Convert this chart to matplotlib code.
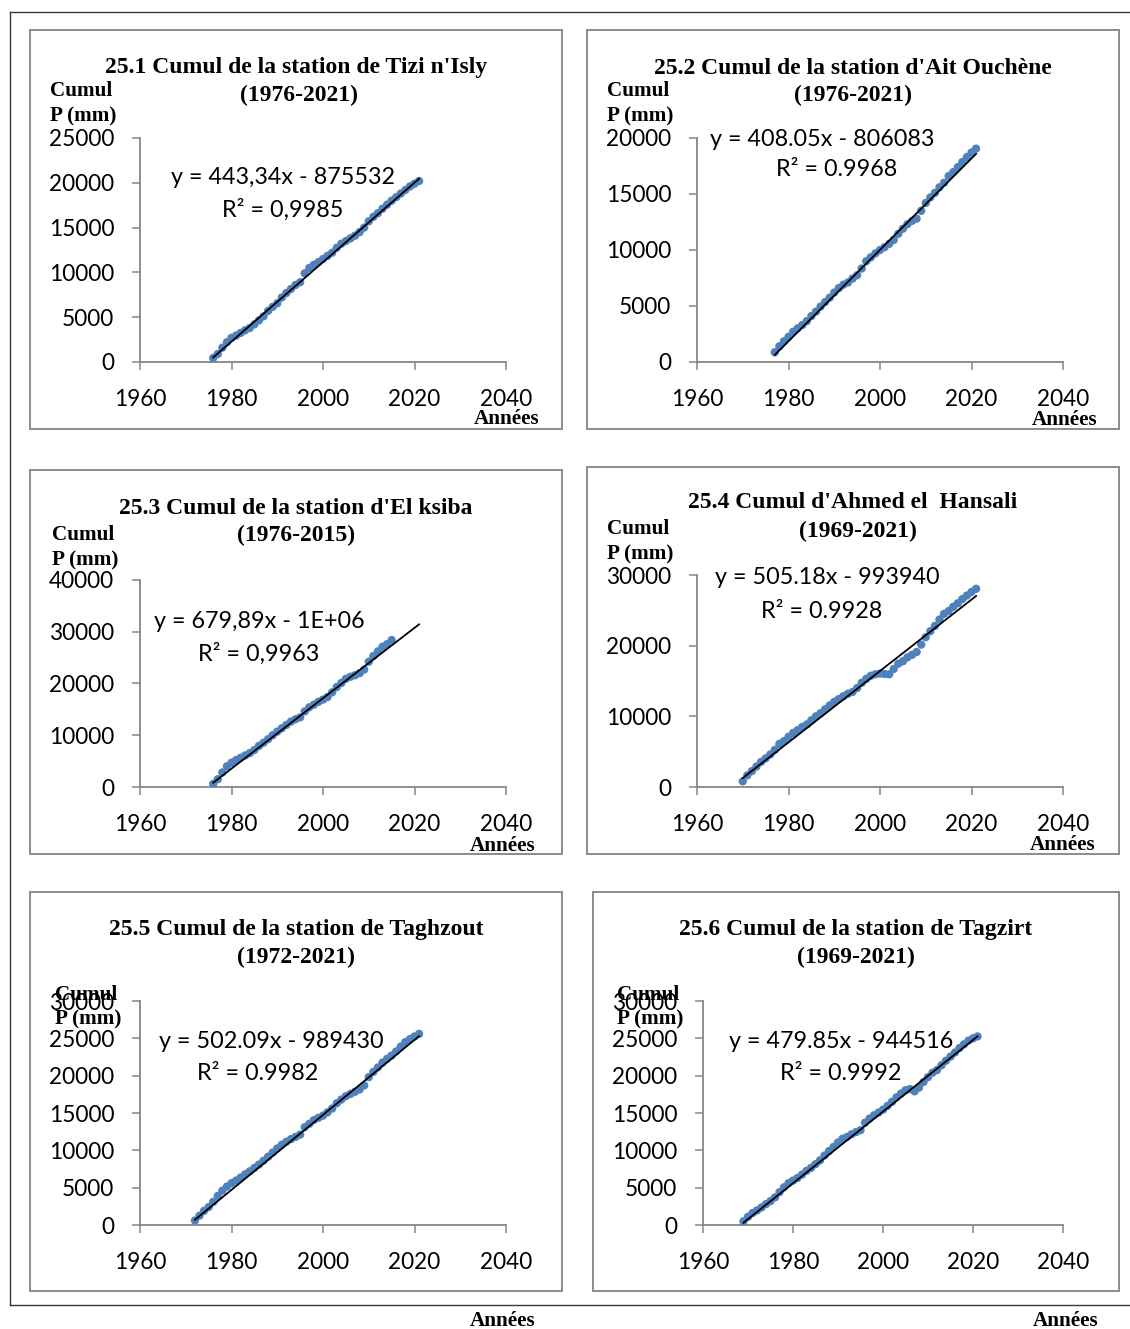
import numpy as np
import matplotlib
matplotlib.use("Agg")
import matplotlib.pyplot as plt
from matplotlib.patches import Rectangle
from matplotlib.lines import Line2D
from matplotlib.ticker import FuncFormatter

# ---------------------------------------------------------------- data
# Cumulative precipitation P (mm) per station, one value per year.
tizi_years = (1976, 2021)
tizi_cumul = [450, 900, 1600, 2200, 2700, 2950, 3250, 3550, 3800, 4200,
              4650, 5100, 5700, 6150, 6550, 7200, 7700, 8150, 8600, 8900,
              9900, 10500, 10850, 11150, 11500, 11850, 12200, 12750, 13200, 13500,
              13800, 14100, 14500, 15000, 15700, 16200, 16600, 17100, 17550, 18000,
              18400, 18800, 19200, 19600, 19900, 20200]

ait_years = (1977, 2021)
ait_cumul = [870, 1400, 1850, 2250, 2700, 3000, 3300, 3650, 4100, 4500,
             4950, 5350, 5750, 6200, 6600, 6900, 7100, 7450, 7750, 8350,
             9000, 9350, 9700, 10000, 10250, 10550, 10900, 11450, 11900, 12300,
             12600, 12800, 13500, 14200, 14700, 15100, 15600, 16000, 16600, 16950,
             17400, 17850, 18300, 18700, 19050]

ksiba_years = (1976, 2015)
ksiba_cumul = [600, 1500, 2800, 4000, 4700, 5200, 5650, 6100, 6550, 7150,
               7950, 8550, 9250, 10000, 10700, 11350, 12000, 12650, 13100, 13450,
               14600, 15400, 15900, 16450, 16900, 17400, 18300, 19300, 20100, 20900,
               21300, 21600, 22000, 22700, 24200, 25300, 26200, 27100, 27600, 28400]

hansali_years = (1970, 2021)
hansali_cumul = [800, 1650, 2250, 2900, 3550, 4050, 4600, 5250, 6100, 6500,
                 7100, 7650, 8050, 8500, 8850, 9450, 10000, 10450, 11000, 11550,
                 12050, 12450, 12850, 13200, 13450, 14000, 14750, 15300, 15750, 15950,
                 16050, 16000, 15950, 16700, 17450, 17800, 18350, 18700, 19100, 20150,
                 21200, 22050, 22800, 23700, 24500, 24900, 25500, 26000, 26600, 27100,
                 27600, 28050]

taghzout_years = (1972, 2021)
taghzout_cumul = [600, 1250, 1900, 2400, 3100, 3900, 4600, 5150, 5600, 5950,
                  6350, 6800, 7200, 7650, 8100, 8600, 9150, 9700, 10250, 10750,
                  11150, 11500, 11800, 12100, 13100, 13550, 14050, 14350, 14650, 15100,
                  15600, 16300, 16800, 17250, 17550, 17850, 18150, 18700, 19800, 20500,
                  21100, 21750, 22250, 22700, 23250, 23900, 24500, 24900, 25250, 25600]

tagzirt_years = (1969, 2021)
tagzirt_cumul = [500, 1100, 1600, 1950, 2350, 2800, 3200, 3700, 4400, 5050,
                 5600, 5950, 6300, 6750, 7250, 7650, 8150, 8650, 9300, 9900,
                 10450, 11050, 11550, 11800, 12150, 12450, 12700, 13700, 14250, 14700,
                 15050, 15450, 15950, 16500, 17100, 17600, 18050, 18200, 17900, 18400,
                 19150, 19800, 20400, 20750, 21400, 22000, 22550, 23100, 23700, 24200,
                 24700, 25000, 25250]

# Linear trend lines (slope, intercept, R²) and the year range they cover.
trend_slope = [443.34, 408.05, 679.89, 505.18, 502.09, 479.85]
trend_intercept = [-875532, -806083, -1342630, -993940, -989430, -944516]
trend_r2 = [0.9985, 0.9968, 0.9963, 0.9928, 0.9982, 0.9992]
trend_span = [(1976, 2021), (1977, 2021), (1976, 2021), (1970, 2021), (1972, 2021), (1969, 2021)]
decimal_sep = [",", ".", ",", ".", ".", "."]
intercept_sci = [False, False, True, False, False, False]

titles = ["25.1 Cumul de la station de Tizi n'Isly",
          "25.2 Cumul de la station d'Ait Ouchène",
          "25.3 Cumul de la station d'El ksiba",
          "25.4 Cumul d'Ahmed el  Hansali",
          "25.5 Cumul de la station de Taghzout",
          "25.6 Cumul de la station de Tagzirt"]
periods = ["(1976-2021)", "(1976-2021)", "(1976-2015)",
           "(1969-2021)", "(1972-2021)", "(1969-2021)"]

x_ticks = [1960, 1980, 2000, 2020, 2040]
y_ticks = [[0, 5000, 10000, 15000, 20000, 25000],
           [0, 5000, 10000, 15000, 20000],
           [0, 10000, 20000, 30000, 40000],
           [0, 10000, 20000, 30000],
           [0, 5000, 10000, 15000, 20000, 25000, 30000],
           [0, 5000, 10000, 15000, 20000, 25000, 30000]]

series = [(tizi_years, tizi_cumul), (ait_years, ait_cumul), (ksiba_years, ksiba_cumul),
          (hansali_years, hansali_cumul), (taghzout_years, taghzout_cumul),
          (tagzirt_years, tagzirt_cumul)]

# ---------------------------------------------------------------- layout (pixels)
W, H = 1130, 1329
SERIF = "Liberation Serif"
SANS = "Lato"
POINT_COLOR = "#4F81BD"
AXIS_COLOR = "#868686"
FRAME_COLOR = "#8C8C8C"
TICK_SIZE = 16.3
EQ_SIZE = 16.8
TITLE_SIZE = 17
LABEL_SIZE = 15.2

# plot area: left, right, top, bottom
plot_box = [(140, 506, 138, 362), (697, 1063, 138, 362),
            (140, 506, 580, 787), (697, 1063, 575, 787),
            (140, 506, 1001, 1225), (703, 1063, 1001, 1225)]
# chart border: left, top, right, bottom
chart_box = [(30, 30, 562, 429), (587, 30, 1119, 429),
             (30, 470, 562, 854), (587, 467, 1119, 854),
             (30, 892, 562, 1291), (593, 892, 1119, 1291)]
title_pos = [(296, 68, 299, 95), (853, 68, 853, 95),
             (296, 508, 296, 535), (853, 503, 858, 531),
             (296, 930, 296, 957), (856, 930, 856, 957)]
ylabel_pos = [(50, 91, 116), (607, 91, 116), (52, 535, 560),
              (607, 529, 554), (55, 995, 1019), (617, 995, 1019)]
eq_pos = [(283, 177, 283, 210), (822, 139, 837, 170),
          (259, 622, 259, 654), (827, 578, 822, 611),
          (271, 1041, 258, 1073), (841, 1041, 841, 1073)]
xlabel_pos = [(507, 419), (1065, 420), (503, 846), (1063, 845),
              (503, 1321), (1066, 1321)]

fig = plt.figure(figsize=(W / 100, H / 100), dpi=100)
fig.patch.set_facecolor("white")


def fx(x):
    return x / W


def fy(y):
    return 1 - y / H


def fmt_num(v, sep, digits):
    return f"{v:.{digits}f}".replace(".", sep)


# outer frame
for xs, ys in [((10, 1130), (12, 12)), ((10, 10), (12, 1305)), ((10, 1130), (1305, 1305))]:
    fig.add_artist(Line2D([fx(xs[0]), fx(xs[1])], [fy(ys[0]), fy(ys[1])],
                          color="#3A3A3A", lw=1.0, transform=fig.transFigure))

for i in range(6):
    # chart border
    l, t, r, b = chart_box[i]
    fig.add_artist(Rectangle((fx(l), fy(b)), fx(r) - fx(l), fy(t) - fy(b),
                             fill=False, edgecolor=FRAME_COLOR, lw=1.4,
                             transform=fig.transFigure))

    pl, pr, pt, pb = plot_box[i]
    ax = fig.add_axes([fx(pl), fy(pb), fx(pr) - fx(pl), fy(pt) - fy(pb)])
    ax.set_facecolor("none")

    (y0, y1), vals = series[i]
    years = np.arange(y0, y1 + 1)
    ax.scatter(years, vals, s=36, color=POINT_COLOR, edgecolors="none", zorder=3)

    a, c = trend_slope[i], trend_intercept[i]
    t0, t1 = trend_span[i]
    ax.plot([t0, t1], [a * t0 + c, a * t1 + c], color="black", lw=1.3, zorder=4)

    ax.set_xlim(1960, 2040)
    ax.set_ylim(0, y_ticks[i][-1])
    ax.set_xticks(x_ticks)
    ax.set_yticks(y_ticks[i])
    ax.yaxis.set_major_formatter(FuncFormatter(lambda v, p: f"{int(v)}"))
    for s in ("top", "right"):
        ax.spines[s].set_visible(False)
    for s in ("left", "bottom"):
        ax.spines[s].set_color(AXIS_COLOR)
        ax.spines[s].set_linewidth(1.3)
    ax.tick_params(axis="both", direction="out", length=5.5, width=1.1,
                   color=AXIS_COLOR, labelsize=TICK_SIZE, labelcolor="black")
    ax.tick_params(axis="y", pad=13)
    ax.tick_params(axis="x", pad=14)
    for lab in ax.get_xticklabels() + ax.get_yticklabels():
        lab.set_fontfamily(SANS)

    # title, two lines
    x1_, y1_, x2_, y2_ = title_pos[i]
    fig.text(fx(x1_), fy(y1_), titles[i], ha="center", va="center",
             family=SERIF, weight="bold", fontsize=TITLE_SIZE)
    fig.text(fx(x2_), fy(y2_), periods[i], ha="center", va="center",
             family=SERIF, weight="bold", fontsize=TITLE_SIZE)

    # axis titles
    lx, ly1, ly2 = ylabel_pos[i]
    fig.text(fx(lx), fy(ly1), "Cumul", ha="left", va="center",
             family=SERIF, weight="bold", fontsize=LABEL_SIZE, zorder=5)
    fig.text(fx(lx), fy(ly2), "P (mm)", ha="left", va="center",
             family=SERIF, weight="bold", fontsize=LABEL_SIZE, zorder=5)
    ax_x, ax_y = xlabel_pos[i]
    fig.text(fx(ax_x), fy(ax_y), "Années", ha="center", va="center",
             family=SERIF, weight="bold", fontsize=LABEL_SIZE)

    # trend equation
    sep = decimal_sep[i]
    if intercept_sci[i]:
        icpt = f"{abs(c):.0E}"
    else:
        icpt = f"{abs(c):.0f}"
    sign = "-" if c < 0 else "+"
    eq = f"y = {fmt_num(a, sep, 2)}x {sign} {icpt}"
    r2 = f"R² = {fmt_num(trend_r2[i], sep, 4)}"
    ex1, ey1, ex2, ey2 = eq_pos[i]
    fig.text(fx(ex1), fy(ey1), eq, ha="center", va="center", family=SANS, fontsize=EQ_SIZE)
    fig.text(fx(ex2), fy(ey2), r2, ha="center", va="center", family=SANS, fontsize=EQ_SIZE)

fig.savefig("out.png", dpi=100, facecolor="white")
